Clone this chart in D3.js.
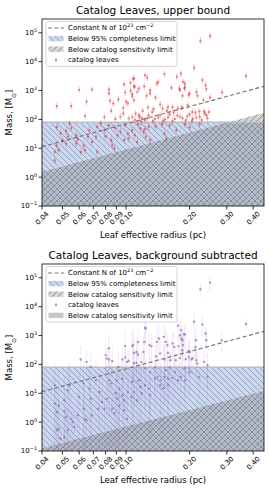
<!DOCTYPE html>
<html lang="en">
<head>
<meta charset="UTF-8">
<title>catalog leaves</title>
<script src="https://cdn.jsdelivr.net/npm/d3@7"></script>
<style>
  body { margin: 0; background: #fff; }
  text { font-family: "DejaVu Sans", sans-serif; fill: #000; }
</style>
</head>
<body>
<script>
// axis setup
var xTicks = [0.04, 0.05, 0.06, 0.07, 0.08, 0.09, 0.10, 0.20, 0.30, 0.40];
var xDomain = [0.04, 0.45];
var yDomain = [0.1, 3e5];
var yExponents = [-1, 0, 1, 2, 3, 4, 5];

// reference lines (radius pc, mass Msun)
var completenessLimit = 80;
var constNLine = [[0.04, 11.3], [0.45, 1400]];
var sensTop = [[0.04, 1.5], [0.45, 170]];
var sensBottom = [[0.04, 0.125], [0.45, 12]];

// upper bound leaves: [radius, mass]
var topLeaves = [
  [0.25,77000],[0.225,53000],[0.37,3200],[0.21,6200],[0.123,3400],[0.152,3700],[0.182,3900],[0.174,3000],
  [0.108,2500],[0.098,1650],[0.186,2000],[0.23,2300],[0.060,1050],[0.069,1080],[0.083,1080],[0.083,790],
  [0.11,1350],[0.113,900],[0.13,1030],[0.138,575],[0.164,1240],[0.18,1030],[0.19,1280],[0.2,790],
  [0.215,900],[0.232,465],[0.065,410],[0.055,290],[0.047,290],[0.064,132],[0.084,440],[0.092,490],
  [0.107,750],[0.125,660],[0.127,260],[0.087,355],[0.085,200],[0.097,250],[0.097,160],[0.10,410],
  [0.102,355],[0.099,860],[0.105,1850],[0.105,980],[0.109,2650],[0.109,1400],[0.107,640],[0.115,1180],
  [0.122,1400],[0.126,2800],[0.13,790],[0.109,465],[0.111,160],[0.115,140],[0.119,108],[0.128,140],
  [0.133,180],[0.14,1750],[0.142,2000],[0.19,1750],[0.179,1180],[0.189,1180],[0.238,1550],[0.24,1120],
  [0.185,660],[0.198,700],[0.218,660],[0.25,575],[0.285,860],[0.145,330],[0.149,240],[0.158,270],
  [0.166,270],[0.176,240],[0.184,270],[0.196,310],[0.206,180],[0.213,175],[0.222,190],[0.234,190],
  [0.24,140],[0.243,108],[0.247,180],[0.116,120],[0.123,94],[0.137,104],[0.145,140],[0.153,100],
  [0.161,150],[0.17,104],[0.18,125],[0.192,94],[0.207,104],[0.223,125],[0.089,104],[0.094,125],
  [0.103,108],[0.107,120],[0.079,120],[0.11,95],[0.118,85],[0.126,110],[0.134,88],[0.142,115],
  [0.15,90],[0.158,120],[0.166,88],[0.175,135],[0.185,110],[0.195,130],[0.205,88],[0.215,115],
  [0.228,95],[0.236,160],[0.2,150],[0.168,175],[0.156,200],[0.12,200],[0.135,230],
  [0.047,55],[0.052,40],[0.054,72],[0.058,28],[0.053,25],[0.047,12.6],[0.046,7.4],[0.048,8.5],
  [0.052,14.5],[0.05,19],[0.058,14.5],[0.059,20],[0.061,7.4],[0.064,8.5],[0.069,16.5],[0.072,25],
  [0.073,55],[0.076,72],[0.079,42],[0.083,63],[0.085,19],[0.086,12.6],[0.088,9.8],[0.091,28],
  [0.094,37],[0.098,19],[0.102,32],[0.103,22],[0.107,42],[0.11,28],[0.113,16.5],[0.117,48],
  [0.121,37],[0.124,25],[0.128,55],[0.13,19],[0.073,7.4],[0.046,3.8],[0.066,25],[0.063,12.6],
  [0.152,32],[0.155,22],[0.173,42],[0.138,58],[0.148,68],[0.161,63],[0.19,68],[0.223,68],
  [0.2,53],[0.049,33],[0.055,50],[0.067,42],[0.08,26],[0.089,50],[0.099,63],[0.114,68],[0.123,46]
];
var topErrDex = 0.12;

// background subtracted leaves: [radius, mass, dex down, dex up]
var bottomLeaves = [
  [0.25,68000,0.3,0.2],[0.225,40000,0.3,0.2],[0.37,2500,0.2,0.2],[0.21,3000,0.5,0.3],[0.123,1850,0.6,0.4],
  [0.176,2200,0.5,0.3],[0.18,1020,0.8,0.4],[0.183,790,0.6,0.3],[0.188,1120,0.5,0.3],[0.23,2400,0.4,0.3],
  [0.061,148,0.6,0.5],[0.065,122,0.5,0.4],[0.068,82,0.5,0.4],[0.08,210,0.8,0.6],[0.081,160,0.6,0.4],
  [0.108,465,1.2,0.5],[0.112,270,0.8,0.5],[0.114,600,0.6,0.5],[0.154,600,0.6,0.5],[0.157,465,0.8,0.4],
  [0.139,190,0.6,0.4],[0.166,530,0.6,0.4],[0.169,400,0.8,0.5],[0.186,465,0.6,0.4],[0.2,270,0.6,0.4],
  [0.204,150,0.5,0.4],[0.215,140,0.6,0.4],[0.083,360,1.0,0.5],[0.083,148,2.0,0.5],[0.086,132,1.5,0.5],
  [0.092,82,2.5,0.5],[0.096,148,1.0,0.4],[0.099,175,0.8,0.4],[0.099,430,1.0,0.5],[0.101,122,1.5,0.4],
  [0.103,132,1.0,0.4],[0.107,430,1.2,0.5],[0.109,250,1.0,0.5],[0.109,112,2.5,0.5],[0.114,220,1.0,0.4],
  [0.121,270,0.8,0.5],[0.122,600,0.8,0.5],[0.124,1750,0.6,0.4],[0.129,465,0.8,0.4],[0.132,430,0.8,0.4],
  [0.112,112,1.5,0.4],[0.118,122,1.2,0.4],[0.284,690,0.4,0.3],[0.238,1180,0.5,0.3],[0.24,690,0.6,0.4],
  [0.214,690,0.6,0.4],[0.213,400,0.6,0.4],[0.182,1540,0.5,0.4],[0.19,1090,0.5,0.4],[0.185,690,0.6,0.4],
  [0.177,430,0.7,0.4],[0.185,310,0.6,0.4],[0.198,290,0.6,0.4],[0.14,600,0.8,0.5],[0.143,790,0.8,0.5],
  [0.151,900,0.7,0.5],[0.145,240,0.8,0.5],[0.152,148,1.0,0.5],[0.158,250,0.8,0.4],[0.162,140,1.0,0.4],
  [0.172,140,0.8,0.4],[0.18,165,0.8,0.4],[0.192,150,0.8,0.4],[0.198,180,0.6,0.4],[0.207,165,0.6,0.4],
  [0.217,107,0.8,0.4],[0.234,122,0.6,0.4],[0.243,94,0.8,0.4],
  [0.137,32,1.2,0.6],[0.141,37,1.0,0.5],[0.146,28,1.5,0.6],[0.152,37,1.0,0.5],[0.158,32,1.2,0.5],
  [0.166,34,1.0,0.5],[0.176,28,1.2,0.5],[0.182,37,1.0,0.5],[0.19,28,1.2,0.5],[0.145,19,1.5,0.6],
  [0.15,15,2.0,0.6],[0.158,19,1.5,0.6],[0.222,37,0.8,0.5],[0.243,37,0.8,0.5],[0.123,74,1.5,0.5],
  [0.13,54,1.5,0.5],[0.137,78,1.2,0.5],[0.154,63,1.2,0.5],[0.161,78,1.0,0.5],[0.17,54,1.2,0.5],
  [0.19,74,1.0,0.5],[0.2,54,1.0,0.5],
  [0.048,3.8,2.0,1.2],[0.047,2.2,2.0,0.8],[0.048,0.59,2.0,1.0],[0.047,0.52,2.0,0.6],[0.049,0.27,2.0,0.6],
  [0.051,0.3,2.0,0.7],[0.051,5.7,2.0,0.8],[0.051,2.4,2.0,0.8],[0.052,1.5,2.0,0.8],[0.053,12.7,2.5,0.8],
  [0.053,0.52,2.0,0.8],[0.055,1.3,2.0,0.8],[0.056,1.0,2.0,0.6],[0.057,0.68,2.0,0.6],[0.059,1.7,2.0,0.8],
  [0.06,7.4,2.0,0.8],[0.063,2.9,2.0,0.8],[0.064,1.3,2.0,0.8],[0.065,1.15,2.0,0.6],[0.067,14.5,2.5,0.8],
  [0.068,6.5,2.0,0.8],[0.069,1.7,2.0,0.6],[0.072,28,2.5,0.7],[0.074,2.9,2.0,0.8],[0.077,5.0,2.0,0.8],
  [0.079,2.9,2.0,0.6],[0.081,6.5,2.0,0.8],[0.083,28,2.5,0.8],[0.085,22,2.5,0.8],[0.086,2.9,2.0,0.6],
  [0.088,2.0,2.0,0.6],[0.089,10,2.0,0.8],[0.091,6.5,2.0,0.8],[0.093,14.5,2.0,0.8],[0.096,8.5,1.5,0.7],
  [0.098,5.7,1.5,0.7],[0.102,11,1.5,0.7],[0.106,7.4,1.5,0.7],[0.109,11,1.5,0.7],[0.113,5.7,1.5,0.7],
  [0.117,16.5,1.5,0.7],[0.119,10,1.5,0.6],[0.123,19,1.5,0.6],[0.128,14.5,1.5,0.6],[0.13,8.5,1.5,0.6],
  [0.093,3.8,2.0,0.6],[0.098,2.6,2.0,0.6],[0.101,1.3,2.0,0.6],[0.09,28,2.0,0.6],[0.096,32,1.5,0.6],
  [0.107,25,1.5,0.6],[0.115,28,1.5,0.6],[0.054,19,2.5,0.8],[0.063,22,2.5,0.8],[0.046,19,2.5,0.8],
  [0.046,4.4,2.0,0.8],[0.075,11,2.0,0.8]
];

var legendTop = ['Constant N of 10|23| cm|−2', 'Below 95% completeness limit', 'Below catalog sensitivity limit', 'catalog leaves'];
var legendBottom = legendTop.concat(['Below catalog sensitivity limit']);

var w = 269, h = 492;
var left = 42, pw = 222, ph = 187;
var svg = d3.select('body').append('svg').attr('width', w).attr('height', h);
var defs = svg.append('defs');

function hatch(id, back, color) {
  var p = defs.append('pattern').attr('id', id)
    .attr('patternUnits', 'userSpaceOnUse').attr('width', 6).attr('height', 6);
  var d = back ? 'M-1,-1L7,7M-1,5L1,7M5,-1L7,1' : 'M-1,7L7,-1M-1,1L1,-1M5,7L7,5';
  p.append('path').attr('d', d).attr('stroke', color).attr('stroke-width', 0.8).attr('fill', 'none');
}
hatch('hBlue', true, '#8d97aa');
hatch('hGrey', false, '#7d7d7d');

// label with superscripts, parts split by |
function richText(sel, str, size) {
  var parts = str.split('|');
  parts.forEach(function (p, i) {
    var t = sel.append('tspan').text(p);
    if (i % 2 === 1) t.attr('baseline-shift', 'super').attr('font-size', size * 0.7);
  });
}

function drawPanel(top, title, leaves, color, sens, legendItems, bgsub) {
  var x = d3.scaleLog().domain(xDomain).range([left, left + pw]);
  var y = d3.scaleLog().domain(yDomain).range([top + ph, top]);
  var g = svg.append('g');
  var clipId = 'clip' + top;
  defs.append('clipPath').attr('id', clipId).append('rect')
    .attr('x', left).attr('y', top).attr('width', pw).attr('height', ph);
  var pg = g.append('g').attr('clip-path', 'url(#' + clipId + ')');
  var errOpacity = bgsub ? 0.15 : 0.3;
  var dotOpacity = bgsub ? 0.7 : 0.5;

  // completeness band
  var bandY = y(completenessLimit);
  pg.append('rect').attr('x', left).attr('y', bandY).attr('width', pw).attr('height', top + ph - bandY).attr('fill', '#cbd8f1');
  pg.append('rect').attr('x', left).attr('y', bandY).attr('width', pw).attr('height', top + ph - bandY).attr('fill', 'url(#hBlue)');

  // sensitivity region
  var poly = [[x(sens[0][0]), top + ph]].concat(sens.map(function (d) { return [x(d[0]), y(d[1])]; }))
    .concat([[x(sens[sens.length - 1][0]), top + ph]]);
  pg.append('polygon').attr('points', poly.join(' ')).attr('fill', '#808080').attr('fill-opacity', 0.33);
  pg.append('polygon').attr('points', poly.join(' ')).attr('fill', 'url(#hGrey)');

  pg.append('line').attr('x1', left).attr('x2', left + pw).attr('y1', bandY).attr('y2', bandY)
    .attr('stroke', '#bdbdbd').attr('stroke-width', 1.4);

  // constant column density line
  pg.append('path').attr('d', d3.line().x(function (d) { return x(d[0]); }).y(function (d) { return y(d[1]); })(constNLine))
    .attr('stroke', '#777').attr('stroke-width', 1.2).attr('stroke-dasharray', '4,2.5').attr('fill', 'none');

  // error bars + points
  pg.selectAll('line.err').data(leaves).enter().append('line').attr('class', 'err')
    .attr('x1', function (d) { return x(d[0]); }).attr('x2', function (d) { return x(d[0]); })
    .attr('y1', function (d) { return y(d[1] / Math.pow(10, bgsub ? d[2] : topErrDex)); })
    .attr('y2', function (d) { return y(d[1] * Math.pow(10, bgsub ? d[3] : topErrDex)); })
    .attr('stroke', color).attr('stroke-opacity', errOpacity).attr('stroke-width', 0.9);
  pg.selectAll('circle').data(leaves).enter().append('circle')
    .attr('cx', function (d) { return x(d[0]); }).attr('cy', function (d) { return y(d[1]); })
    .attr('r', 1.2).attr('fill', color).attr('fill-opacity', dotOpacity);

  // frame
  g.append('rect').attr('x', left).attr('y', top).attr('width', pw).attr('height', ph)
    .attr('fill', 'none').attr('stroke', '#000').attr('stroke-width', 0.8);

  // y ticks
  yExponents.forEach(function (e) {
    var yy = y(Math.pow(10, e));
    g.append('line').attr('x1', left - 3.5).attr('x2', left).attr('y1', yy).attr('y2', yy).attr('stroke', '#000').attr('stroke-width', 0.8);
    var t = g.append('text').attr('x', left - 5).attr('y', yy).attr('dy', '0.35em').attr('text-anchor', 'end').attr('font-size', 7);
    richText(t, '10|' + (e < 0 ? '−' + (-e) : e), 7);
  });
  // x ticks
  xTicks.forEach(function (v) {
    var xx = x(v);
    g.append('line').attr('x1', xx).attr('x2', xx).attr('y1', top + ph).attr('y2', top + ph + 3.5).attr('stroke', '#000').attr('stroke-width', 0.8);
    g.append('text').attr('transform', 'translate(' + xx + ',' + (top + ph + 12) + ') rotate(-45)')
      .attr('text-anchor', 'middle').attr('dy', '0.35em').attr('font-size', 7).text(v.toFixed(2));
  });

  // labels
  g.append('text').attr('x', left + pw / 2).attr('y', top - 5).attr('text-anchor', 'middle').attr('font-size', 10.5).text(title);
  g.append('text').attr('x', left + pw / 2).attr('y', top + ph + 32).attr('text-anchor', 'middle').attr('font-size', 8.5).text('Leaf effective radius (pc)');
  var yl = g.append('text').attr('transform', 'translate(12,' + (top + ph / 2) + ') rotate(-90)')
    .attr('text-anchor', 'middle').attr('font-size', 8.5);
  yl.append('tspan').text('Mass, [M');
  yl.append('tspan').attr('baseline-shift', 'sub').attr('font-size', 6).text('⊙');
  yl.append('tspan').text(']');

  // legend
  var lg = g.append('g').attr('transform', 'translate(46,' + (top + 2.5) + ')');
  lg.append('rect').attr('width', 131).attr('height', legendItems.length * 10.6 + 2.5).attr('rx', 2)
    .attr('fill', '#fff').attr('fill-opacity', 0.85).attr('stroke', '#ccc').attr('stroke-width', 0.8);
  legendItems.forEach(function (label, i) {
    var cy = 6.5 + i * 10.6;
    if (i === 0) {
      lg.append('line').attr('x1', 2).attr('x2', 18).attr('y1', cy).attr('y2', cy)
        .attr('stroke', '#777').attr('stroke-width', 1.2).attr('stroke-dasharray', '4,2.5');
    } else if (i === 1) {
      lg.append('rect').attr('x', 2.5).attr('y', cy - 2.7).attr('width', 15).attr('height', 5.4).attr('fill', '#cbd8f1');
      lg.append('rect').attr('x', 2.5).attr('y', cy - 2.7).attr('width', 15).attr('height', 5.4).attr('fill', 'url(#hBlue)');
    } else if (i === 2) {
      lg.append('rect').attr('x', 2.5).attr('y', cy - 2.7).attr('width', 15).attr('height', 5.4).attr('fill', '#808080').attr('fill-opacity', 0.33);
      lg.append('rect').attr('x', 2.5).attr('y', cy - 2.7).attr('width', 15).attr('height', 5.4).attr('fill', 'url(#hGrey)');
    } else if (i === 3) {
      lg.append('line').attr('x1', 10).attr('x2', 10).attr('y1', cy - 2.5).attr('y2', cy + 2.5).attr('stroke', color).attr('stroke-opacity', errOpacity);
      lg.append('circle').attr('cx', 10).attr('cy', cy).attr('r', 1.2).attr('fill', color).attr('fill-opacity', dotOpacity);
    } else {
      lg.append('rect').attr('x', 2.5).attr('y', cy - 2.7).attr('width', 15).attr('height', 5.4).attr('fill', '#c8c8c8');
    }
    var t = lg.append('text').attr('x', 22).attr('y', cy).attr('dy', '0.35em').attr('font-size', 7);
    richText(t, label, 7);
  });
}

drawPanel(19, 'Catalog Leaves, upper bound', topLeaves, '#d62728', sensTop, legendTop, false);
drawPanel(264, 'Catalog Leaves, background subtracted', bottomLeaves, '#9467bd', sensBottom, legendBottom, true);
</script>
</body>
</html>
